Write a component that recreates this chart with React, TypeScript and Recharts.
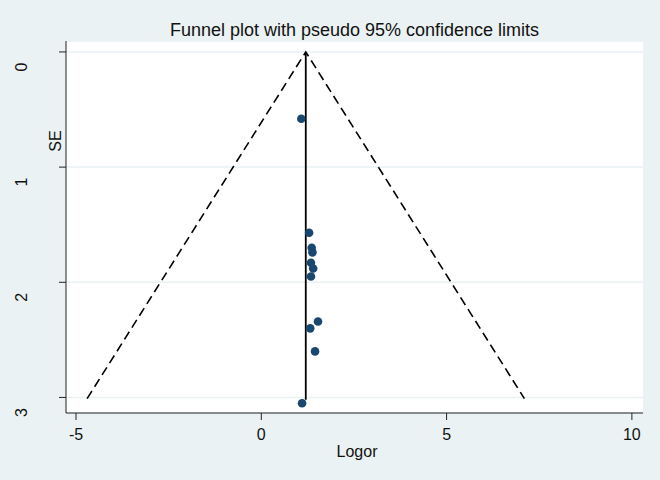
import React from "react";
import { ScatterChart, Scatter, XAxis, YAxis, CartesianGrid } from "recharts";

// Study estimates (log odds ratio) and their standard errors
const studyLogor = [1.08, 1.29, 1.36, 1.38, 1.34, 1.40, 1.34, 1.53, 1.32, 1.45, 1.10];
const studySE = [0.58, 1.57, 1.70, 1.74, 1.83, 1.88, 1.95, 2.34, 2.40, 2.60, 3.05];

// Pooled estimate line
const pooledLogor = [1.2, 1.2];
const pooledSE = [0, 3.02];

// Pseudo 95% confidence limits (funnel)
const funnelLogor = [-4.70, 1.2, 7.10];
const funnelSE = [3.01, 0, 3.01];

const xTicks = [-5, 0, 5, 10];
const yTicks = [0, 1, 2, 3];

const points = studyLogor.map((x, i) => ({ x, y: studySE[i] }));
const pooled = pooledLogor.map((x, i) => ({ x, y: pooledSE[i] }));
const funnel = funnelLogor.map((x, i) => ({ x, y: funnelSE[i] }));

const FONT = "'Liberation Sans', Arial, sans-serif";
const BG = "#EAF2F3";

const XTick = (props: any) => {
  const { x, y, payload } = props;
  return (
    <text x={x} y={y + 20} textAnchor="middle" fontSize={16} fontFamily={FONT} fill="#111">
      {payload.value}
    </text>
  );
};

const YTick = (props: any) => {
  const { y, payload } = props;
  const cx = 22;
  const cy = y + 15;
  return (
    <text
      x={cx}
      y={cy}
      transform={`rotate(-90, ${cx}, ${cy})`}
      textAnchor="middle"
      dominantBaseline="central"
      fontSize={16}
      fontFamily={FONT}
      fill="#111"
    >
      {payload.value}
    </text>
  );
};

const Dot = (props: any) => {
  const { cx, cy } = props;
  if (cx == null || cy == null) return <g />;
  return <circle cx={cx} cy={cy} r={4.3} fill="#1A476F" />;
};

const NoShape = () => <g />;

export default function App() {
  return (
    <div style={{ position: "absolute", left: 0, top: 0, width: 660, height: 480, background: BG }}>
      <div
        style={{
          position: "absolute",
          left: 66,
          width: 577,
          top: 19,
          textAlign: "center",
          fontFamily: FONT,
          fontSize: 18,
          color: "#111",
          lineHeight: "22px",
        }}
      >
        Funnel plot with pseudo 95% confidence limits
      </div>
      <ScatterChart width={660} height={480} margin={{ top: 41, right: 17, left: 0, bottom: 0 }}>
        <CartesianGrid vertical={false} horizontal={true} stroke={BG} strokeWidth={1.5} fill="#ffffff" />
        <XAxis
          type="number"
          dataKey="x"
          domain={[-5.27, 10.3]}
          ticks={xTicks}
          allowDataOverflow
          height={67}
          tickSize={7}
          tickMargin={0}
          tick={<XTick />}
          stroke="#222"
          label={(p: any) => (
            <text x={357} y={457} textAnchor="middle" fontSize={16} fontFamily={FONT} fill="#111">
              Logor
            </text>
          )}
        />
        <YAxis
          type="number"
          dataKey="y"
          reversed
          domain={[-0.095, 3.135]}
          ticks={yTicks}
          allowDataOverflow
          width={66}
          tickSize={7}
          tickMargin={0}
          tick={<YTick />}
          stroke="#222"
          label={(p: any) => (
            <text
              x={55}
              y={141}
              transform="rotate(-90, 55, 141)"
              textAnchor="middle"
              dominantBaseline="central"
              fontSize={16}
              fontFamily={FONT}
              fill="#111"
            >
              SE
            </text>
          )}
        />
        <Scatter
          data={funnel}
          line={{ stroke: "#000", strokeWidth: 1.6, strokeDasharray: "9 5" }}
          shape={<NoShape />}
          isAnimationActive={false}
        />
        <Scatter
          data={pooled}
          line={{ stroke: "#000", strokeWidth: 1.8 }}
          shape={<NoShape />}
          isAnimationActive={false}
        />
        <Scatter data={points} shape={<Dot />} isAnimationActive={false} />
      </ScatterChart>
    </div>
  );
}
